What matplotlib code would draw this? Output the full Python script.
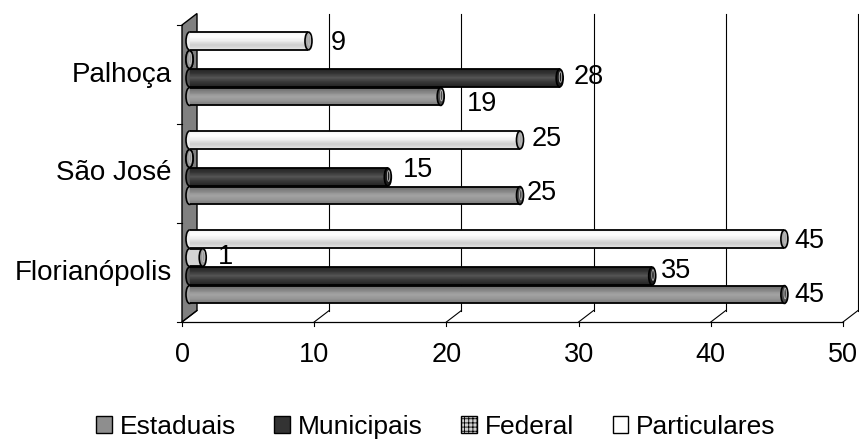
import numpy as np
import matplotlib.pyplot as plt
import matplotlib.transforms as mtransforms
from matplotlib.patches import Rectangle, Ellipse, Polygon, Patch
from matplotlib.lines import Line2D
from matplotlib.colors import LinearSegmentedColormap

plt.rcParams['font.family'] = ['Liberation Sans', 'DejaVu Sans']
plt.rcParams['hatch.color'] = '#8c8c8c'
plt.rcParams['hatch.linewidth'] = 0.6

# Dados (escolas por rede de ensino)
cidades = ['Florianópolis', 'São José', 'Palhoça']
series = ['Estaduais', 'Municipais', 'Federal', 'Particulares']
estaduais = [45, 25, 19]
municipais = [35, 15, 28]
federal = [1, 0, 0]
particulares = [45, 25, 9]
x_ticks = [0, 10, 20, 30, 40, 50]

valores = {'Estaduais': estaduais, 'Municipais': municipais,
           'Federal': federal, 'Particulares': particulares}

# sombreamento dos cilindros (de cima para baixo) e cor da tampa
gradientes = {
    'Estaduais': ['#6c6c6c', '#858585', '#a4a4a4', '#979797', '#7c7c7c'],
    'Municipais': ['#242424', '#363636', '#565656', '#383838', '#262626'],
    'Federal': ['#d4d4d4', '#d4d4d4', '#d4d4d4'],
    'Particulares': ['#f4f4f4', '#ffffff', '#eeeeee', '#cdcdcd', '#e4e4e4'],
}
tampas = {'Estaduais': '#4a4a4a', 'Municipais': '#1c1c1c',
          'Federal': '#9a9a9a', 'Particulares': '#a8a8a8'}
legenda_cor = {'Estaduais': '#8e8e8e', 'Municipais': '#333333',
               'Federal': '#d0d0d0', 'Particulares': '#ffffff'}

# deslocamento dos rótulos de valor (px à direita, px para cima)
ajuste = {
    'Estaduais': [(10, 0), (7, 3), (26, -7)],
    'Municipais': [(9, 5), (15, 7), (14, 1)],
    'Federal': [(15, 0), (0, 0), (0, 0)],
    'Particulares': [(10, -2), (12, 1), (22, -2)],
}

fig = plt.figure(figsize=(8.59, 4.47), dpi=100)
W, H = 859, 447
ax = fig.add_axes([182 / W, (H - 322) / H, 661 / W, 297 / H])
ax.set_xlim(0, 50)
ax.set_ylim(0, 3)
ax.set_axis_off()

PROF_X, PROF_Y = 15, 11.5   # profundidade 3D em px


def prof(frac):
    return ax.transData + mtransforms.ScaledTranslation(
        PROF_X * frac / 100, PROF_Y * frac / 100, fig.dpi_scale_trans)


def px(v, c, frac=0.0):
    p = ax.transData.transform((v, c))
    return (p[0] + PROF_X * frac, p[1] + PROF_Y * frac)


ident = mtransforms.IdentityTransform()


def linha(x, y, **kw):
    ax.add_line(Line2D(x, y, color='black', lw=0.8, transform=ident,
                       clip_on=False, zorder=1, **kw))


# parede lateral
ax.add_patch(Polygon([px(0, 0), px(0, 3), px(0, 3, 1), px(0, 0, 1)],
                     closed=True, fc='#808080', ec='black', lw=1,
                     transform=ident, clip_on=False, zorder=1))

# linhas de grade no plano de fundo e diagonais do piso
for v in x_ticks[1:]:
    ax.plot([v, v], [0, 3], color='black', lw=0.8, transform=prof(1),
            clip_on=False, zorder=1)
for v in x_ticks:
    a, b = px(v, 0), px(v, 0, 1)
    linha([a[0], b[0]], [a[1], b[1]])
    linha([a[0], a[0]], [a[1], a[1] - 4])
    ax.text(v, 0, str(v), transform=ax.transData + mtransforms.ScaledTranslation(
        0, -0.33, fig.dpi_scale_trans), ha='center', va='center', fontsize=19.5)
ax.plot([0, 50], [0, 0], color='black', lw=0.9, clip_on=False, zorder=1)

# marcas do eixo das categorias
for c in range(4):
    a = px(0, c)
    linha([a[0] - 5, a[0]], [a[1], a[1]])
for i, cidade in enumerate(cidades):
    ax.text(0, i + 0.5, cidade, transform=ax.transData + mtransforms.ScaledTranslation(
        -0.10, 0, fig.dpi_scale_trans), ha='right', va='center', fontsize=20)

# cilindros
altura = 0.18
passo = 0.187
tampa_w = 0.53
meio = prof(0.5)
for j, s in enumerate(series):
    cmap = LinearSegmentedColormap.from_list(s, gradientes[s])
    for i, cidade in enumerate(cidades):
        v = valores[s][i]
        yc = i + 0.5 + (j - 1.5) * passo
        y0 = yc - altura / 2
        z = 3 + j * 0.1
        ax.add_patch(Ellipse((0, yc), tampa_w, altura, fc=gradientes[s][2],
                             ec='black', lw=1.2, transform=meio,
                             clip_on=False, zorder=z))
        if v > 0:
            if s == 'Federal':
                ax.add_patch(Rectangle((0, y0), v, altura, fc='#d4d4d4',
                                       ec='none', hatch='+++', lw=0,
                                       transform=meio, clip_on=False,
                                       zorder=z + 0.01))
            else:
                n = 24
                for k in range(n):
                    cor = cmap(k / (n - 1))
                    ax.add_patch(Rectangle((0, yc + altura / 2 - (k + 1) * altura / n),
                                           v, altura / n, fc=cor, ec=cor, lw=0.3,
                                           transform=meio, clip_on=False,
                                           zorder=z + 0.01))
            ax.plot([0, v], [y0, y0], color='black', lw=1.3, transform=meio,
                    clip_on=False, zorder=z + 0.02, solid_capstyle='butt')
            ax.plot([0, v], [y0 + altura, y0 + altura], color='black', lw=1.3,
                    transform=meio, clip_on=False, zorder=z + 0.02,
                    solid_capstyle='butt')
        ax.add_patch(Ellipse((v, yc), tampa_w, altura, fc=tampas[s],
                             ec='black', lw=1.2, transform=meio,
                             clip_on=False, zorder=z + 0.03))
        ax.add_patch(Ellipse((v + 0.06, yc + 0.01), tampa_w * 0.35, altura * 0.6,
                             fc='none', ec='#bdbdbd', lw=0.6, transform=meio,
                             clip_on=False, zorder=z + 0.04))
        if v > 0:
            dx, dy = ajuste[s][i]
            ax.annotate(str(v), (v, yc), xycoords=meio, xytext=(dx, dy),
                        textcoords='offset pixels', ha='left', va='center',
                        fontsize=19.5, zorder=10)

# legenda
handles = []
for s in series:
    if s == 'Federal':
        handles.append(Patch(fc=legenda_cor[s], ec='black', hatch='++++', lw=1))
    else:
        handles.append(Patch(fc=legenda_cor[s], ec='black', lw=1))
fig.legend(handles, series, loc='center', bbox_to_anchor=(436 / W, 1 - 427 / H),
           ncol=4, frameon=False, fontsize=19, handlelength=0.6,
           handleheight=0.6, handletextpad=0.3, columnspacing=1.45,
           borderaxespad=0)

fig.savefig('out.png', dpi=100)
